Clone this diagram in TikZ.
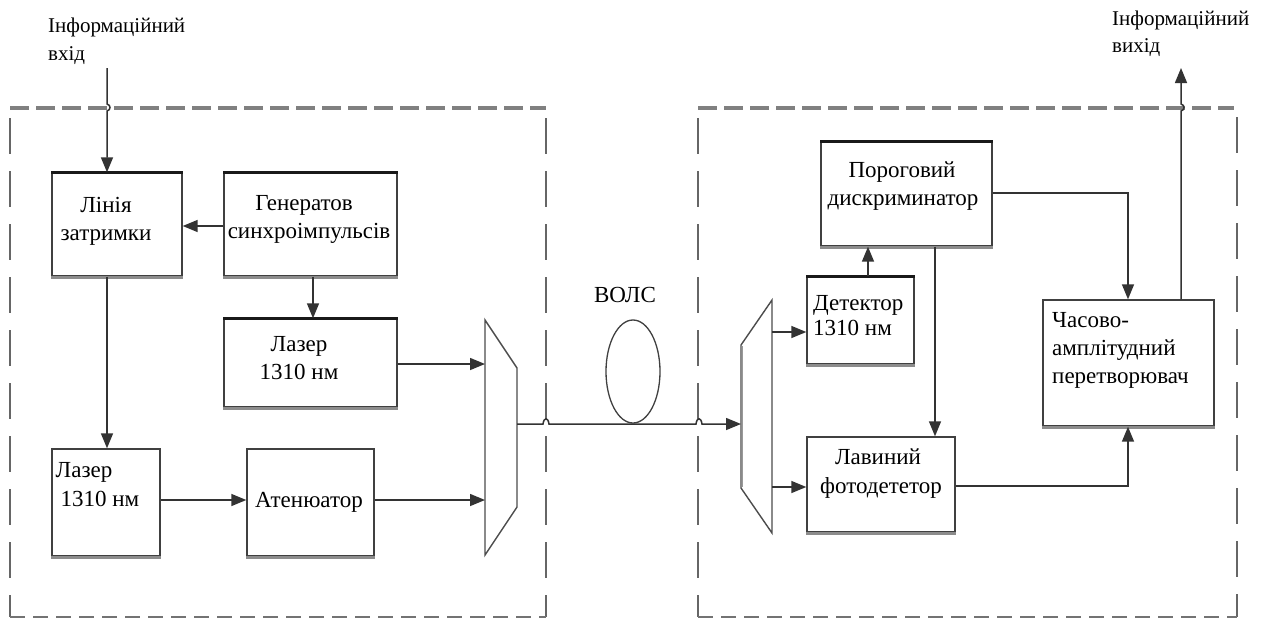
\documentclass[tikz,border=0pt]{standalone}
\usepackage{fontspec}
\setmainfont{Liberation Serif}
\usetikzlibrary{arrows.meta,shapes.geometric}
\begin{document}
\begin{tikzpicture}[x=1pt,y=-1pt,
  box/.style={draw=black!75, line width=1.4pt, fill=white, inner sep=0pt},
  topbar/.style={draw=black!90, line width=3.5pt},
  shadowbar/.style={draw=black!45, line width=3pt},
  arr/.style={draw=black!80, line width=1.5pt, -{Triangle[length=15pt,width=12pt]}},
  mux/.style={draw=black!70, line width=1.4pt, fill=white},
  dtop/.style={draw=black!50, line width=3.5pt, dash pattern=on 19pt off 7pt},
  dbot/.style={draw=black!55, line width=2.5pt, dash pattern=on 15pt off 8pt},
  dside/.style={draw=black!60, line width=1.8pt, dash pattern=on 36pt off 17pt},
  txt/.style={font=\fontsize{23}{28}\selectfont, inner sep=0pt, anchor=base},
  itxt/.style={font=\fontsize{21}{26}\selectfont, inner sep=0pt, anchor=base west},
]
\useasboundingbox (0,0) rectangle (1264,619);
\fill[white] (0,0) rectangle (1264,619);

% dashed enclosures
\draw[dtop] (10,108) -- (546,108);
\draw[dside] (10,118) -- (10,617);
\draw[dside] (546,118) -- (546,617);
\draw[dbot] (10,617) -- (546,617);
\draw[dtop] (698,108) -- (1234,108);
\draw[dside] (698,118) -- (698,617);
\draw[dside] (1237,117) -- (1237,617);
\draw[dbot] (698,617) -- (1237,617);

% boxes
\node[box, minimum width=130pt, minimum height=103pt] (lin)  at (117,224.5) {};
\node[box, minimum width=173pt, minimum height=103pt] (gen)  at (310.5,224.5) {};
\node[box, minimum width=173pt, minimum height=88pt]  (las1) at (310.5,363) {};
\node[box, minimum width=108pt, minimum height=107pt] (las2) at (106,502.5) {};
\node[box, minimum width=127pt, minimum height=107pt] (aten) at (310.5,502.5) {};
\node[box, minimum width=171pt, minimum height=104pt] (por)  at (906.5,194) {};
\node[box, minimum width=107pt, minimum height=87pt]  (det)  at (860.5,320.5) {};
\node[box, minimum width=148pt, minimum height=95pt]  (lav)  at (881,484.5) {};
\node[box, minimum width=171pt, minimum height=126pt] (chas) at (1128.5,363) {};

\foreach \n in {lin,gen,las1,por,det}
  \draw[topbar] (\n.north west) -- (\n.north east);
\foreach \n in {lin,gen,las1,las2,aten,por,det,lav,chas}
  \draw[shadowbar] ([yshift=-1pt]\n.south west) -- ([yshift=-1pt]\n.south east);

% multiplexers
\draw[mux] (485,320) -- (517,368) -- (517,507) -- (485,555) -- cycle;
\draw[mux] (772,300) -- (741,345) -- (741,488) -- (772,533) -- cycle;
\draw[draw=black!40, line width=1.5pt] (742.5,346) -- (742.5,487);
\coordinate (lm1) at (485,364);
\coordinate (lm2) at (485,500);
\coordinate (lmo) at (517,424);
\coordinate (rmi) at (741,424);
\coordinate (rmo1) at (772,332);
\coordinate (rmo2) at (772,487);

% fibre loop
\node[draw=black!75, line width=1.3pt, ellipse, minimum width=54pt, minimum height=103pt, inner sep=0pt] (loop) at (633,371.5) {};

% terminals
\coordinate (inA) at (107,68);
\coordinate (outA) at (1181,68);

% connectors
\draw[arr] (inA) -- (107,104) .. controls (111,105) and (111,110) .. (107,111) -- (inA |- lin.north);
\draw[arr] (gen.west |- 0,226) -- (lin.east |- 0,226);
\draw[arr] (gen.south -| 313,0) -- (las1.north -| 313,0);
\draw[arr] (las1.east |- 0,364) -- (lm1);
\draw[arr] (lin.south -| 107,0) -- (las2.north -| 107,0);
\draw[arr] (las2.east |- 0,500) -- (aten.west |- 0,500);
\draw[arr] (aten.east |- 0,500) -- (lm2);
\draw[arr] (lmo) -- (543,424) .. controls (544,417) and (548,417) .. (549,424)
  -- (696,424) .. controls (697,417) and (701,417) .. (702,424) -- (rmi);
\draw[arr] (rmo1) -- (det.west |- rmo1);
\draw[arr] (rmo2) -- (lav.west |- rmo2);
\draw[arr] (det.north -| 868,0) -- (por.south -| 868,0);
\draw[arr] (por.south -| 935,0) -- (lav.north -| 935,0);
\draw[arr] (por.east |- 0,193) -- (1128,193) -- (chas.north -| 1128,0);
\draw[arr] (lav.east |- 0,486) -- (1128,486) -- (chas.south -| 1128,0);
\draw[arr] (chas.north -| 1181,0) -- (1181,111) .. controls (1185,110) and (1185,105) .. (1181,104) -- (outA);

% texts
\node[itxt] (tin1) at (48,32) {Інформаційний};
\node[itxt] (tin2) at (48,60) {вхід};
\node[itxt] (tout1) at (1112,25) {Інформаційний};
\node[itxt] (tout2) at (1112,52) {вихід};
\node[txt] (t1) at (106,212) {Лінія};
\node[txt] (t2) at (106,240) {затримки};
\node[txt] (t3) at (304,210) {Генератов};
\node[txt] (t4) at (309,238) {синхроімпульсів};
\node[txt] (t5) at (299,351) {Лазер};
\node[txt] (t6) at (299,379) {1310 нм};
\node[txt] (t7) at (84,477) {Лазер};
\node[txt] (t8) at (100,506) {1310 нм};
\node[txt] (t9) at (309,507) {Атенюатор};
\node[txt] (t10) at (625,302) {ВОЛС};
\node[txt] (t11) at (902,177) {Пороговий};
\node[txt] (t12) at (903,205) {дискриминатор};
\node[txt, anchor=base west] (t13) at (813,310) {Детектор};
\node[txt, anchor=base west] (t14) at (813,335) {1310 нм};
\node[txt] (t15) at (878,464) {Лавиний};
\node[txt] (t16) at (881,493) {фотодететор};
\node[txt, anchor=base west] (t17) at (1052,327) {Часово-};
\node[txt, anchor=base west] (t18) at (1052,355) {амплітудний};
\node[txt, anchor=base west] (t19) at (1052,383) {перетворювач};
\end{tikzpicture}
\end{document}
